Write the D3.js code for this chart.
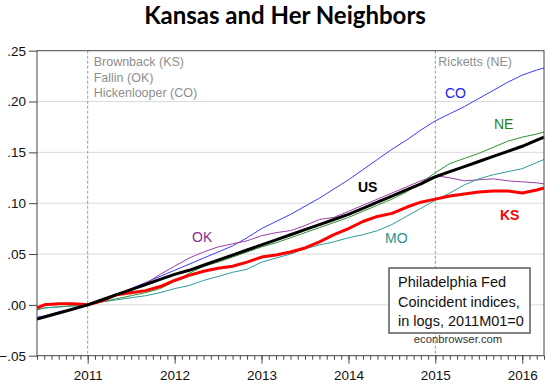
<!DOCTYPE html>
<html>
<head>
<meta charset="utf-8">
<script src="https://cdn.jsdelivr.net/npm/d3@7"></script>
<style>
  body { margin: 0; background: #fff; }
  svg text { font-family: Arial, "Liberation Sans", sans-serif; }
</style>
</head>
<body>
<div id="chart"></div>
<script>
/* DATA (log coincident indices, 2011M01 = 0) */
const dates = [
  "2010M06", "2010M07", "2010M09", "2010M11",
  "2011M01", "2011M03", "2011M05", "2011M07", "2011M09", "2011M11",
  "2012M01", "2012M03", "2012M05", "2012M07", "2012M09", "2012M11",
  "2013M01", "2013M03", "2013M05", "2013M07", "2013M09", "2013M11",
  "2014M01", "2014M03", "2014M05", "2014M07", "2014M09", "2014M11",
  "2015M01", "2015M03", "2015M05", "2015M07", "2015M09", "2015M11",
  "2016M01", "2016M03", "2016M04"
];
const US = [
  -0.014, -0.012, -0.008, -0.004,
  0.000, 0.005, 0.010, 0.015, 0.020, 0.025,
  0.030, 0.034, 0.039, 0.044, 0.049, 0.054,
  0.059, 0.064, 0.069, 0.074, 0.079, 0.084,
  0.089, 0.095, 0.101, 0.107, 0.113, 0.119,
  0.126, 0.131, 0.136, 0.141, 0.146, 0.151,
  0.156, 0.162, 0.165
];
const CO = [
  -0.012, -0.011, -0.007, -0.004,
  0.000, 0.005, 0.010, 0.016, 0.022, 0.028,
  0.034, 0.040, 0.046, 0.052, 0.058, 0.066,
  0.075, 0.082, 0.089, 0.097, 0.105, 0.114,
  0.123, 0.133, 0.143, 0.153, 0.162, 0.172,
  0.181, 0.188, 0.195, 0.203, 0.211, 0.219,
  0.226, 0.231, 0.233
];
const OK = [
  -0.014, -0.012, -0.008, -0.004,
  0.000, 0.004, 0.009, 0.015, 0.021, 0.030,
  0.038, 0.046, 0.052, 0.057, 0.060, 0.063,
  0.068, 0.071, 0.073, 0.078, 0.084, 0.086,
  0.092, 0.098, 0.104, 0.110, 0.116, 0.122,
  0.127, 0.125, 0.122, 0.123, 0.124, 0.122,
  0.121, 0.120, 0.119
];
const NE = [
  -0.005, -0.003, -0.002, -0.001,
  0.000, 0.003, 0.006, 0.009, 0.012, 0.016,
  0.023, 0.031, 0.038, 0.042, 0.047, 0.052,
  0.057, 0.061, 0.066, 0.071, 0.076, 0.081,
  0.086, 0.092, 0.098, 0.104, 0.111, 0.120,
  0.130, 0.139, 0.144, 0.149, 0.155, 0.161,
  0.165, 0.168, 0.170
];
const MO = [
  -0.004, -0.003, -0.002, -0.001,
  0.000, 0.003, 0.005, 0.007, 0.009, 0.012,
  0.016, 0.019, 0.024, 0.028, 0.032, 0.035,
  0.042, 0.046, 0.050, 0.055, 0.059, 0.062,
  0.066, 0.069, 0.073, 0.079, 0.087, 0.095,
  0.103, 0.110, 0.118, 0.124, 0.128, 0.131,
  0.134, 0.140, 0.143
];
const KS = [
  -0.003, 0.000, 0.001, 0.001,
  0.000, 0.004, 0.010, 0.012, 0.014, 0.018,
  0.024, 0.029, 0.033, 0.036, 0.038, 0.042,
  0.047, 0.049, 0.052, 0.056, 0.062, 0.069,
  0.075, 0.082, 0.087, 0.090, 0.096, 0.101,
  0.104, 0.107, 0.109, 0.111, 0.112, 0.112,
  0.110, 0.113, 0.115
];
const yTicks = [-0.05, 0.00, 0.05, 0.10, 0.15, 0.20, 0.25];
const xYears = [2011, 2012, 2013, 2014, 2015, 2016];
const eventDates = ["2011M01", "2015M01"];
const governorsLeft = ["Brownback (KS)", "Fallin (OK)", "Hickenlooper (CO)"];
const governorsRight = ["Ricketts (NE)"];
const noteLines = ["Philadelphia Fed", "Coincident indices,", "in logs, 2011M01=0"];

/* CONSTANTS */
const width = 550,
  height = 385,
  margin = { top: 50.7, bottom: 29.3, left: 37, right: 6 };

// "2010M06" -> 2010.4167
const toYear = s => +s.slice(0, 4) + (+s.slice(5) - 1) / 12;

const series = [
  { key: "CO", values: CO, color: "#3d3dff", w: 1 },
  { key: "NE", values: NE, color: "#2f8f2f", w: 1 },
  { key: "OK", values: OK, color: "#9b3fa5", w: 1 },
  { key: "MO", values: MO, color: "#2e9b9b", w: 1 },
  { key: "KS", values: KS, color: "#ff0000", w: 3 },
  { key: "US", values: US, color: "#000000", w: 3 }
];

const labels = [
  { text: "CO", x: 445, y: 98, color: "#1a1aff", bold: false },
  { text: "NE", x: 494, y: 129, color: "#1f7f1f", bold: false },
  { text: "US", x: 358, y: 192, color: "#000", bold: true },
  { text: "OK", x: 192, y: 242, color: "#8b2a8f", bold: false },
  { text: "MO", x: 385, y: 243, color: "#2a9090", bold: false },
  { text: "KS", x: 500, y: 220, color: "#ff0000", bold: true }
];

/* SCALES */
const xScale = d3.scaleLinear()
  .domain([toYear("2010M06"), toYear("2016M04")])
  .range([margin.left, width - margin.right]);

const yScale = d3.scaleLinear()
  .domain([-0.05, 0.25])
  .range([height - margin.bottom, margin.top]);

const svg = d3.select("#chart")
  .append("svg")
  .attr("width", width)
  .attr("height", height);

// TITLE
svg.append("text")
  .attr("x", 285)
  .attr("y", 24)
  .attr("text-anchor", "middle")
  .style("font-family", "Lato, 'Open Sans', sans-serif")
  .style("font-weight", "bold")
  .style("font-size", "24px")
  .text("Kansas and Her Neighbors");

// GRIDLINES
svg.append("g")
  .selectAll("line")
  .data(yTicks.slice(1, -1))
  .join("line")
  .attr("x1", margin.left)
  .attr("x2", width - margin.right)
  .attr("y1", d => yScale(d))
  .attr("y2", d => yScale(d))
  .attr("stroke", "#dadada")
  .attr("stroke-width", 1);

// DASHED EVENT LINES
svg.append("g")
  .selectAll("line")
  .data(eventDates)
  .join("line")
  .attr("x1", d => xScale(toYear(d)))
  .attr("x2", d => xScale(toYear(d)))
  .attr("y1", margin.top)
  .attr("y2", height - margin.bottom)
  .attr("stroke", "#9a9a9a")
  .attr("stroke-dasharray", "3,2")
  .attr("stroke-width", 1);

// GOVERNOR NOTES
svg.append("g")
  .selectAll("text")
  .data(governorsLeft)
  .join("text")
  .attr("x", xScale(toYear("2011M01")) + 6)
  .attr("y", (d, i) => 66 + i * 15.5)
  .attr("fill", "#8e8e8e")
  .style("font-size", "12.5px")
  .text(d => d);

svg.append("g")
  .selectAll("text")
  .data(governorsRight)
  .join("text")
  .attr("x", xScale(toYear("2015M01")) + 3)
  .attr("y", 66)
  .attr("fill", "#8e8e8e")
  .style("font-size", "12.5px")
  .text(d => d);

// LINES
const line = d3.line()
  .x((d, i) => xScale(toYear(dates[i])))
  .y(d => yScale(d));

svg.append("g")
  .selectAll("path")
  .data(series)
  .join("path")
  .attr("d", d => line(d.values))
  .attr("fill", "none")
  .attr("stroke", d => d.color)
  .attr("stroke-width", d => d.w)
  .attr("stroke-linejoin", "round");

// SERIES LABELS
svg.append("g")
  .selectAll("text")
  .data(labels)
  .join("text")
  .attr("x", d => d.x)
  .attr("y", d => d.y)
  .attr("fill", d => d.color)
  .style("font-size", "14px")
  .style("font-weight", d => d.bold ? "bold" : "normal")
  .text(d => d.text);

// NOTE BOX
const note = svg.append("g");
note.append("rect")
  .attr("x", 389)
  .attr("y", 268)
  .attr("width", 141)
  .attr("height", 65)
  .attr("fill", "#fff")
  .attr("stroke", "#5a5a5a")
  .attr("stroke-width", 1.5);
note.selectAll("text.note")
  .data(noteLines)
  .join("text")
  .attr("class", "note")
  .attr("x", 398)
  .attr("y", (d, i) => 287 + i * 19.5)
  .attr("fill", "#111")
  .style("font-size", "14.5px")
  .text(d => d);
note.append("text")
  .attr("x", 458)
  .attr("y", 343)
  .attr("text-anchor", "middle")
  .attr("fill", "#333")
  .style("font-size", "11.3px")
  .text("econbrowser.com");

// AXES
const fmt = d => d3.format(".2f")(d).replace("0.", ".");

const yAxis = d3.axisLeft(yScale)
  .tickValues(yTicks)
  .tickSize(8)
  .tickPadding(3)
  .tickFormat(fmt);

svg.append("g")
  .attr("transform", `translate(${margin.left}, 0)`)
  .call(yAxis)
  .call(g => g.select(".domain").remove())
  .call(g => g.selectAll("line").attr("stroke", "#444"))
  .call(g => g.selectAll("text")
    .style("font-size", "13.5px")
    .style("font-family", "Arial, 'Liberation Sans', sans-serif")
    .attr("fill", "#111"));

const months = d3.range(toYear("2010M06"), toYear("2016M04") + 0.001, 1 / 12);

svg.append("g")
  .attr("transform", `translate(0, ${height - margin.bottom})`)
  .call(d3.axisBottom(xScale).tickValues(months).tickSize(4).tickFormat(""))
  .call(g => g.select(".domain").remove())
  .call(g => g.selectAll("line").attr("stroke", "#444"));

svg.append("g")
  .attr("transform", `translate(0, ${height - margin.bottom})`)
  .call(d3.axisBottom(xScale).tickValues(xYears).tickSize(8).tickPadding(7).tickFormat(d3.format("d")))
  .call(g => g.select(".domain").remove())
  .call(g => g.selectAll("line").attr("stroke", "#444"))
  .call(g => g.selectAll("text")
    .style("font-size", "13.5px")
    .style("font-family", "Arial, 'Liberation Sans', sans-serif")
    .attr("fill", "#111"));

// FRAME
svg.append("rect")
  .attr("x", margin.left)
  .attr("y", margin.top)
  .attr("width", width - margin.left - margin.right)
  .attr("height", height - margin.top - margin.bottom)
  .attr("fill", "none")
  .attr("stroke", "#444")
  .attr("stroke-width", 1);
</script>
</body>
</html>
